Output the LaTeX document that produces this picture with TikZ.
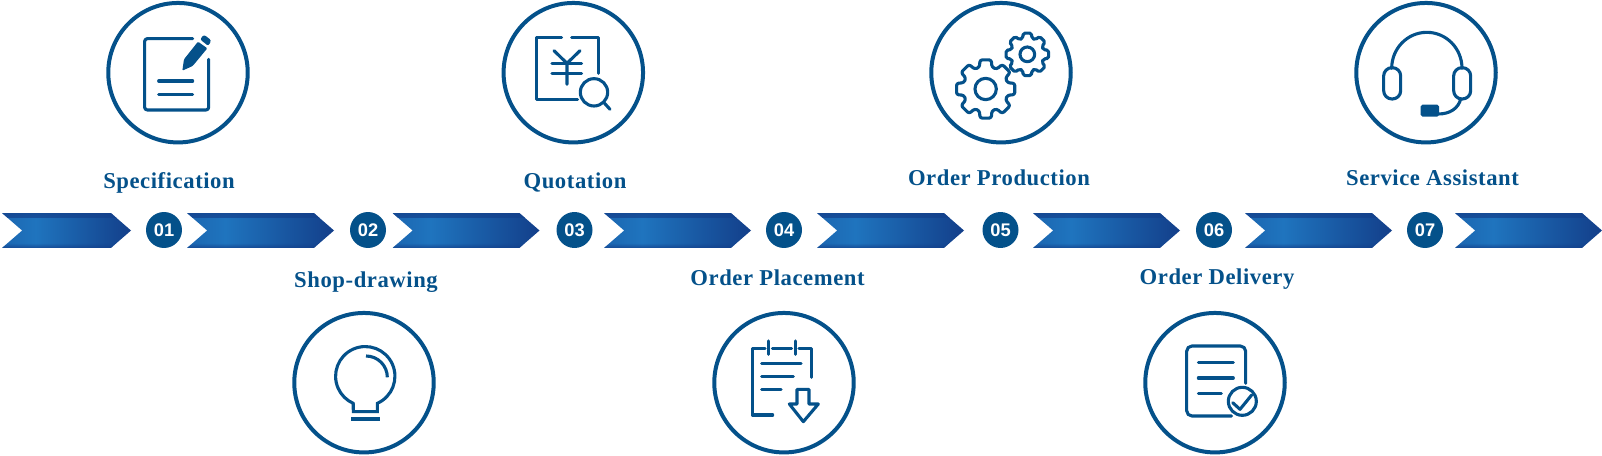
\documentclass[tikz,border=0pt]{standalone}
\usepackage{fontspec}
\setmainfont{Liberation Serif}
\newfontfamily\numfont{Liberation Sans}
\usetikzlibrary{shapes.symbols,fadings}
\definecolor{Steel}{HTML}{04518A}
\definecolor{Bright}{HTML}{1F74BE}
\definecolor{Navy}{HTML}{133F8A}
\pgfdeclarehorizontalshading{chevshade}{100bp}{color(0bp)=(Bright!80!Navy); color(28bp)=(Bright!80!Navy); color(38bp)=(Bright); color(75bp)=(Navy); color(100bp)=(Navy)}

\begin{document}
\begin{tikzpicture}[x=.02cm,y=-.02cm,
    ring/.style={circle,draw=Steel,line width=.08cm,inner sep=0,outer sep=0,minimum size=2.79cm},
    badge/.style={circle,fill=Steel,inner sep=0,minimum size=.72cm,text=white,font=\numfont\bfseries\fontsize{10.4}{12}\selectfont},
    caption/.style={text=Steel,inner sep=0,font=\bfseries\fontsize{12.9}{15}\selectfont\addfontfeatures{LetterSpace=2.5}},
    chev/.style={signal,signal to=east,signal from=west,signal pointer angle=82,inner sep=0,outer sep=0,minimum width=#1*.02cm,minimum height=.7cm,shading=chevshade,
      path picture={
        \fill[Navy,opacity=.75,path fading=south] (path picture bounding box.north west) rectangle ([yshift=-.1cm]path picture bounding box.north east);
        \fill[Navy,opacity=.75,path fading=north] (path picture bounding box.south west) rectangle ([yshift=.1cm]path picture bounding box.south east);
      }},
    icon/.style={draw=Steel,line width=.062cm,line cap=round,line join=round},
    zoomed/.style={x=.02cm/3,y=-.02cm/3}
  ]
    \useasboundingbox (0,0) rectangle (1602,456);
    % the band
    \node[chev=129] (c1) at (66.5,230.5) {};
    \node[chev=147] (c2) at (260.5,230.5) {};
    \node[chev=147] (c3) at (466,230.5) {};
    \node[chev=147] (c4) at (677.5,230.5) {};
    \node[chev=147] (c5) at (890.5,230.5) {};
    \node[chev=147] (c6) at (1106.5,230.5) {};
    \node[chev=147] (c7) at (1318.5,230.5) {};
    \node[chev=147] (c8) at (1528.5,230.5) {};
    \node[badge] (n1) at (164,230) {01};
    \node[badge] (n2) at (368,230) {02};
    \node[badge] (n3) at (574.5,230) {03};
    \node[badge] (n4) at (784,230) {04};
    \node[badge] (n5) at (1000.5,230) {05};
    \node[badge] (n6) at (1214,230) {06};
    \node[badge] (n7) at (1425,230) {07};
    % rings and captions
    \node[ring] (spec) at (178,72.7) {};
    \node[ring] (quot) at (573.3,72.7) {};
    \node[ring] (prod) at (1001,72.7) {};
    \node[ring] (serv) at (1426,72.7) {};
    \node[ring] (shop) at (364,382.7) {};
    \node[ring] (plac) at (784,382.7) {};
    \node[ring] (deli) at (1215,382.7) {};
    \node[caption] (t1) at (169,182.5) {Specification};
    \node[caption] (t2) at (366,282) {Shop-drawing};
    \node[caption] (t3) at (575,182.5) {Quotation};
    \node[caption] (t4) at (777.5,277.5) {Order Placement};
    \node[caption] (t5) at (999,178) {Order Production};
    \node[caption] (t6) at (1217,279.5) {Order Delivery};
    \node[caption] (t7) at (1432.5,178) {Service Assistant};
    % specification icon
    \begin{scope}[zoomed]
      \draw[icon,rounded corners=1.5pt] (578,116) -- (434,116) -- (434,330) -- (626,330) -- (626,178);
      \draw[icon] (476,243) -- (578,243) (476,284) -- (578,284);
      \fill[Steel,rounded corners=.6pt] (547,212) -- (552,178) -- (594,125) -- (622,145) -- (578,198) -- cycle;
      \fill[Steel,rounded corners=1.2pt] (600,118) -- (612,104) -- (634,121) -- (625,138) -- cycle;
    \end{scope}
    % quotation icon
    \begin{scope}[shift={(480,0)},zoomed]
      \draw[icon] (245,112) -- (170,112) -- (170,298) -- (293,298);
      \draw[icon] (275,112) -- (355,112) -- (355,220);
      \draw[icon] (222,152) -- (261,190) -- (300,152) (261,190) -- (261,253);
      \draw[icon] (216,190) -- (305,190) (216,220) -- (305,220);
      \draw[icon] (342,277) circle[radius=41];
      \draw[icon] (372,308) -- (390,328);
    \end{scope}
    % production icon
    \begin{scope}[shift={(910,0)},zoomed]
      \draw[icon,rounded corners=1.3pt,shift={(227,267)}] (-16:68) -- (-11:89) -- (11:89) -- (16:68) \foreach \a in {45,90,...,315} { -- (\a-16:68) -- (\a-11:89) -- (\a+11:89) -- (\a+16:68) } -- cycle;
      \draw[icon] (227,267) circle[radius=32];
      \draw[icon,rounded corners=1pt,shift={(352,163)}] (-16:50) -- (-11:65) -- (11:65) -- (16:50) \foreach \a in {45,90,...,315} { -- (\a-16:50) -- (\a-11:65) -- (\a+11:65) -- (\a+16:50) } -- cycle;
      \draw[icon] (352,163) circle[radius=22];
    \end{scope}
    % service icon
    \begin{scope}[shift={(1330,0)},zoomed]
      \draw[icon] (185,205) arc[start angle=180,end angle=360,x radius=105.5,y radius=108];
      \draw[icon,rounded corners=4.7pt] (161,203) rectangle (212,297);
      \draw[icon,rounded corners=4.7pt] (371,203) rectangle (422,297);
      \draw[icon] (392,297) .. controls (385,325) and (360,342) .. (325,342);
      \fill[Steel,rounded corners=1pt] (272,314) rectangle (327,350);
    \end{scope}
    % shop-drawing icon
    \begin{scope}[shift={(280,300)},zoomed]
      \draw[icon,line cap=butt,line join=miter] (292,335) -- (292,310) arc[start angle=66,end angle=-246,radius=89] -- (220,335) -- cycle;
      \draw[icon,line cap=butt] (214,357) -- (299,357);
      \draw[icon,line cap=butt] (258,168) arc[start angle=-90,end angle=0,radius=64];
    \end{scope}
    % placement icon
    \begin{scope}[shift={(700,300)},zoomed]
      \draw[icon] (195,145) -- (157,145) -- (157,345) -- (218,345);
      \draw[icon] (217,145) -- (275,145);
      \draw[icon] (297,145) -- (335,145) -- (335,232);
      \draw[icon] (205,123) -- (205,163) (287,123) -- (287,163);
      \draw[icon] (185,190) -- (303,190) (185,230) -- (280,230) (185,268) -- (243,268);
      \draw[icon] (291,312) -- (291,268) -- (327,268) -- (327,312) -- (355,312) -- (310,365) -- (268,312) -- cycle;
    \end{scope}
    % delivery icon
    \begin{scope}[shift={(1130,300)},zoomed]
      \draw[icon,rounded corners=3pt] (305,348) -- (170,348) -- (170,138) -- (347,138) -- (347,250);
      \draw[icon] (205,188) -- (310,188) (205,234) -- (310,234) (205,281) -- (274,281);
      \draw[icon] (337,304) circle[radius=42];
      \draw[icon] (308,308) -- (330,328) -- (365,285);
    \end{scope}
  \end{tikzpicture}
\end{document}
